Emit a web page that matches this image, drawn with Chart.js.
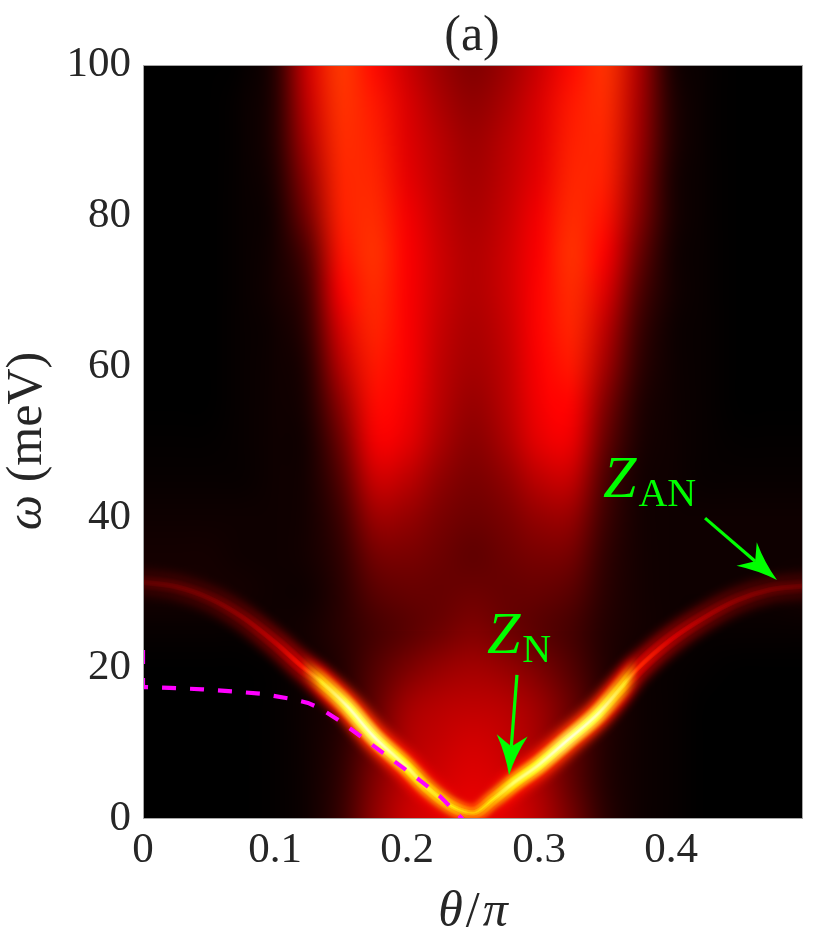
<!DOCTYPE html>
<html><head><meta charset="utf-8">
<script src="https://cdn.jsdelivr.net/npm/chart.js@4.4.1/dist/chart.umd.min.js"></script>
<style>html,body{margin:0;padding:0;background:#fff}#wrap{width:831px;height:943px}</style>
</head><body><div id="wrap"><canvas id="c" width="831" height="943"></canvas></div>
<script>
// ---- axes / ticks ----
const xTicks = [0, 0.1, 0.2, 0.3, 0.4];
const xTickLabels = ['0', '0.1', '0.2', '0.3', '0.4'];
const yTicks = [0, 20, 40, 60, 80, 100];
const yTickLabels = ['0', '20', '40', '60', '80', '100'];

// ---- background spectral intensity (hot colormap value 0..1), rows from omega=100 down to 0 ----
const thetaGrid = [0,0.025,0.05,0.075,0.1,0.125,0.15,0.175,0.2,0.225,0.25,0.275,0.3,0.325,0.35,0.375,0.4,0.425,0.45,0.475,0.5];
const omegaGrid = [100,95,90,85,80,75,70,65,60,55,50,45,40,35,30,25,20,15,10,5,0];
const intensityRows = [
 [0,0,0,0.005,0.05,0.31,0.46,0.39,0.30,0.23,0.19,0.23,0.30,0.39,0.45,0.26,0.04,0.01,0,0,0],
 [0,0,0,0.01,0.05,0.29,0.45,0.41,0.32,0.25,0.21,0.25,0.32,0.41,0.44,0.25,0.05,0.01,0,0,0],
 [0,0,0,0.01,0.05,0.26,0.44,0.42,0.33,0.27,0.23,0.27,0.33,0.42,0.43,0.24,0.05,0.01,0,0,0],
 [0,0,0,0.01,0.04,0.22,0.43,0.43,0.34,0.28,0.24,0.28,0.34,0.43,0.42,0.22,0.04,0.01,0,0,0],
 [0,0,0,0.01,0.03,0.18,0.42,0.44,0.36,0.29,0.25,0.29,0.36,0.44,0.40,0.20,0.04,0.01,0,0,0],
 [0,0,0,0.01,0.03,0.12,0.40,0.45,0.37,0.30,0.26,0.30,0.37,0.45,0.37,0.16,0.03,0.01,0,0,0],
 [0,0,0,0.01,0.03,0.09,0.37,0.44,0.37,0.30,0.26,0.30,0.38,0.44,0.33,0.12,0.03,0.01,0,0,0],
 [0,0,0,0.01,0.02,0.07,0.32,0.43,0.37,0.29,0.25,0.29,0.38,0.43,0.28,0.09,0.02,0.01,0,0,0],
 [0,0,0,0.01,0.02,0.05,0.27,0.41,0.37,0.28,0.24,0.28,0.37,0.41,0.24,0.07,0.02,0.01,0,0,0],
 [0,0,0,0.01,0.02,0.04,0.21,0.39,0.36,0.27,0.22,0.27,0.36,0.38,0.19,0.05,0.02,0.01,0,0,0],
 [0.005,0.005,0.005,0.01,0.02,0.03,0.16,0.36,0.34,0.25,0.20,0.25,0.34,0.35,0.15,0.04,0.02,0.01,0.005,0.005,0.005],
 [0.01,0.01,0.01,0.01,0.02,0.03,0.12,0.30,0.28,0.21,0.18,0.21,0.28,0.29,0.11,0.03,0.02,0.01,0.01,0.01,0.01],
 [0.02,0.02,0.02,0.02,0.02,0.03,0.09,0.23,0.22,0.18,0.16,0.18,0.22,0.22,0.09,0.03,0.02,0.02,0.02,0.02,0.02],
 [0.03,0.03,0.03,0.02,0.02,0.03,0.07,0.17,0.18,0.16,0.14,0.16,0.18,0.17,0.07,0.03,0.02,0.02,0.02,0.02,0.02],
 [0.03,0.03,0.03,0.03,0.02,0.02,0.06,0.13,0.15,0.15,0.16,0.15,0.15,0.13,0.06,0.03,0.02,0.02,0.02,0.02,0.03],
 [0.01,0.01,0.01,0.01,0.02,0.03,0.06,0.10,0.13,0.16,0.19,0.16,0.13,0.10,0.05,0.03,0.02,0.01,0.01,0.01,0.01],
 [0,0,0,0,0.005,0.02,0.05,0.12,0.18,0.22,0.24,0.22,0.18,0.12,0.05,0.02,0.01,0.005,0,0,0],
 [0,0,0,0,0.005,0.02,0.05,0.14,0.24,0.27,0.28,0.27,0.23,0.15,0.06,0.02,0.01,0,0,0,0],
 [0,0,0,0,0.005,0.02,0.06,0.16,0.26,0.29,0.31,0.29,0.24,0.14,0.05,0.02,0.01,0,0,0,0],
 [0,0,0,0,0.005,0.02,0.07,0.19,0.28,0.31,0.33,0.31,0.25,0.14,0.05,0.02,0.01,0,0,0,0],
 [0,0,0,0,0.005,0.02,0.08,0.21,0.30,0.33,0.35,0.33,0.27,0.17,0.06,0.02,0.01,0,0,0,0]
];

// ---- sharp quasiparticle ridge ----
const ridgeTheta     = [0,    0.025, 0.05, 0.075, 0.1,  0.12, 0.135, 0.155, 0.175, 0.2,  0.215, 0.235, 0.25, 0.265, 0.28, 0.3,  0.32, 0.345, 0.365, 0.375, 0.4,  0.425, 0.45, 0.475, 0.5];
const ridgeOmega     = [31.4, 30.8,  29.3, 26.8,  23.4, 20.3, 18.2,  14.9,  10.9,  6.9,  4.2,   1.6,   0.8,  2.6,   4.7,  7.2,  10.2, 14.0,  18.0,  20.0,  23.8, 26.7,  29.0, 30.4,  30.9];
const ridgeIntensity = [0.15, 0.17,  0.19, 0.23,  0.30, 0.40, 0.78,  0.94,  0.97,  0.88, 0.80,  0.76,  0.68, 0.76,  0.86, 0.92, 0.98, 0.94,  0.78,  0.44,  0.34, 0.27,  0.22, 0.19,  0.17];

// ---- magenta dashed curve ----
const dashTheta = [0,    0,    0.02, 0.045, 0.07, 0.09, 0.11, 0.125, 0.135, 0.15, 0.17, 0.19, 0.21, 0.225, 0.242];
const dashOmega = [22.4, 17.5, 17.4, 17.2,  16.9, 16.6, 16.0, 15.4,  14.6,  12.9, 10.3, 7.7,  5.1,  3.0,   0.0];

// ---- annotations ----
const arrowFrom = [[0.2833, 19.1], [0.4258, 39.9]];
const arrowTo   = [[0.2773, 5.8],  [0.4803, 31.7]];
const labelMain = ['Z', 'Z'];
const labelSub  = ['N', 'AN'];
const labelPos  = [[0.2606, 22.0], [0.3485, 42.7]];

function hot(v){
  v = Math.max(0, Math.min(1, v));
  const r = Math.min(1, v/0.375);
  const g = Math.max(0, Math.min(1, (v-0.375)/0.375));
  const b = Math.max(0, Math.min(1, (v-0.75)/0.25));
  return [Math.round(r*255), Math.round(g*255), Math.round(b*255)];
}
function hotCss(v){ const c = hot(v); return `rgb(${c[0]},${c[1]},${c[2]})`; }

// glow layers used to render the ridge (style only): colour = hot(scale*I - offset)
const glowLayers = [
  {scale:0.45, offset:0,    width:28, blur:5},
  {scale:0.68, offset:0,    width:17, blur:3},
  {scale:1.00, offset:0.14, width:14, blur:2},
  {scale:0.90, offset:0,    width:7,  blur:1.5},
  {scale:1.00, offset:0,    width:4,  blur:1}
];

function ridgeGradient(chart, L){
  const {ctx, chartArea:a, scales:{x}} = chart;
  const g = ctx.createLinearGradient(a.left, 0, a.right, 0);
  ridgeTheta.forEach((t,i)=>{
    const p = (x.getPixelForValue(t)-a.left)/(a.right-a.left);
    g.addColorStop(Math.min(1, Math.max(0, p)), hotCss(ridgeIntensity[i]*L.scale - L.offset));
  });
  return g;
}

const ridgePoints = ridgeTheta.map((t,i)=>({x:t, y:ridgeOmega[i]}));
const datasets = [{
  label:'dashed', data: dashTheta.map((t,i)=>({x:t, y:dashOmega[i]})),
  borderColor:'#ff00ff', borderWidth:4.2, borderDash:[14,14], tension:0, pointRadius:0, order:0, fill:false
}];
glowLayers.forEach((L, k) => {
  datasets.push({
    label:'ridge'+k, data: ridgePoints, borderWidth:L.width,
    borderColor: c => c.chart.chartArea ? ridgeGradient(c.chart, L) : '#000',
    cubicInterpolationMode:'monotone', pointRadius:0, order:1, fill:false,
    borderCapStyle:'round', borderJoinStyle:'round'
  });
});

const heatPlugin = {
  id:'heat',
  beforeDatasetsDraw(chart){
    const {ctx, chartArea:a, scales:{x, y}} = chart;
    const nC = thetaGrid.length, nR = omegaGrid.length;
    const off = document.createElement('canvas'); off.width = nC; off.height = nR;
    const octx = off.getContext('2d'); const img = octx.createImageData(nC, nR);
    for (let r=0;r<nR;r++) for (let c=0;c<nC;c++){
      const col = hot(intensityRows[r][c]); const k = (r*nC+c)*4;
      img.data[k]=col[0]; img.data[k+1]=col[1]; img.data[k+2]=col[2]; img.data[k+3]=255;
    }
    octx.putImageData(img,0,0);
    const dT = thetaGrid[1]-thetaGrid[0], dW = omegaGrid[0]-omegaGrid[1];
    const x0 = x.getPixelForValue(thetaGrid[0]-dT/2), x1 = x.getPixelForValue(thetaGrid[nC-1]+dT/2);
    const y0 = y.getPixelForValue(omegaGrid[0]+dW/2), y1 = y.getPixelForValue(omegaGrid[nR-1]-dW/2);
    ctx.save();
    ctx.beginPath(); ctx.rect(a.left, a.top, a.right-a.left, a.bottom-a.top); ctx.clip();
    ctx.fillStyle = '#000'; ctx.fillRect(a.left, a.top, a.right-a.left, a.bottom-a.top);
    ctx.imageSmoothingEnabled = true; ctx.imageSmoothingQuality = 'high';
    ctx.drawImage(off, x0, y0, x1-x0, y1-y0);
    ctx.restore();
  },
  beforeDatasetDraw(chart, args){
    const ds = chart.data.datasets[args.index];
    if (ds.label.startsWith('ridge')){
      const L = glowLayers[+ds.label.slice(5)];
      chart.ctx.save();
      chart.ctx.globalCompositeOperation = 'lighten';
      chart.ctx.filter = `blur(${L.blur}px)`;
    }
  },
  afterDatasetDraw(chart, args){
    const ds = chart.data.datasets[args.index];
    if (ds.label.startsWith('ridge')) chart.ctx.restore();
  },
  afterDatasetsDraw(chart){
    const {ctx, chartArea:a} = chart;
    ctx.save(); ctx.strokeStyle = '#a6a6a6'; ctx.lineWidth = 1;
    ctx.strokeRect(a.left+0.5, a.top+0.5, a.right-a.left-1, a.bottom-a.top-1);
    ctx.restore();
  },
  afterDraw(chart){
    const {ctx, chartArea:a, scales:{x, y}} = chart;
    ctx.save();
    // arrows
    ctx.fillStyle = '#00ff00'; ctx.strokeStyle = '#00ff00';
    for (let i=0;i<arrowFrom.length;i++){
      const x0 = x.getPixelForValue(arrowFrom[i][0]), y0 = y.getPixelForValue(arrowFrom[i][1]);
      const x1 = x.getPixelForValue(arrowTo[i][0]), y1 = y.getPixelForValue(arrowTo[i][1]);
      const Lh = 40, W = 31, notch = 0.72;
      const dx = x1-x0, dy = y1-y0, d = Math.hypot(dx,dy), ux = dx/d, uy = dy/d, nx = -uy, ny = ux;
      const bx = x1-ux*Lh*notch, by = y1-uy*Lh*notch;
      ctx.lineWidth = 3.2; ctx.beginPath(); ctx.moveTo(x0,y0); ctx.lineTo(bx,by); ctx.stroke();
      const c1x = x1-ux*Lh+nx*W/2, c1y = y1-uy*Lh+ny*W/2;
      const c2x = x1-ux*Lh-nx*W/2, c2y = y1-uy*Lh-ny*W/2;
      ctx.beginPath(); ctx.moveTo(x1,y1);
      ctx.quadraticCurveTo((x1+c1x)/2 - nx*3, (y1+c1y)/2 - ny*3, c1x, c1y);
      ctx.lineTo(bx,by); ctx.lineTo(c2x,c2y);
      ctx.quadraticCurveTo((x1+c2x)/2 + nx*3, (y1+c2y)/2 + ny*3, x1, y1);
      ctx.closePath(); ctx.fill();
    }
    // Z labels
    ctx.textBaseline = 'alphabetic'; ctx.textAlign = 'left';
    for (let i=0;i<labelMain.length;i++){
      const px = x.getPixelForValue(labelPos[i][0]), py = y.getPixelForValue(labelPos[i][1]);
      ctx.font = 'italic 60px "Liberation Serif"';
      ctx.fillText(labelMain[i], px, py);
      const w = ctx.measureText(labelMain[i]).width;
      ctx.font = '40px "Liberation Serif"';
      ctx.fillText(labelSub[i], px + w + 2, py + 9);
    }
    // title
    ctx.fillStyle = '#262626';
    ctx.font = '50px "Liberation Serif"'; ctx.textAlign = 'center';
    ctx.fillText('(a)', (a.left+a.right)/2 - 1, 50);
    // x-axis title: theta/pi
    const parts = [['θ','italic 50px "Liberation Serif"', 3], ['/','50px "Liberation Serif"', 3], ['π','italic 50px "Liberation Serif"', 0]];
    let tot = 0; parts.forEach(p=>{ctx.font=p[1]; tot += ctx.measureText(p[0]).width + p[2];});
    let cx = (a.left+a.right)/2 - tot/2; ctx.textAlign = 'left';
    parts.forEach(p=>{ctx.font=p[1]; ctx.fillText(p[0], cx, 926); cx += ctx.measureText(p[0]).width + p[2];});
    // y-axis title: omega (meV)
    ctx.translate(41, 441); ctx.rotate(-Math.PI/2);
    const yp = [['ω','italic 50px "Liberation Serif"'], [' (meV)','50px "Liberation Serif"']];
    tot = 0; yp.forEach(p=>{ctx.font=p[1]; tot += ctx.measureText(p[0]).width;});
    cx = -tot/2;
    yp.forEach(p=>{ctx.font=p[1]; ctx.fillText(p[0], cx, 0); cx += ctx.measureText(p[0]).width;});
    ctx.restore();
  }
};

new Chart(document.getElementById('c'), {
  type:'line',
  data:{datasets},
  plugins:[heatPlugin],
  options:{
    responsive:false, animation:false,
    layout:{padding:{top:65, right:28, left:0, bottom:0}},
    plugins:{legend:{display:false}, tooltip:{enabled:false}, title:{display:false}},
    scales:{
      x:{type:'linear', min:0, max:0.5,
         afterFit(s){ s.height = 124; },
         afterBuildTicks(s){ s.ticks = xTicks.map(v=>({value:v})); },
         ticks:{callback:(v)=>xTickLabels[xTicks.indexOf(v)], font:{family:'Liberation Serif', size:43}, color:'#262626', padding:6, maxRotation:0, autoSkip:false},
         grid:{display:false, drawTicks:false}, border:{display:false}},
      y:{type:'linear', min:0, max:100,
         afterFit(s){ s.width = 143; },
         afterBuildTicks(s){ s.ticks = yTicks.map(v=>({value:v})); },
         ticks:{callback:(v)=>yTickLabels[yTicks.indexOf(v)], font:{family:'Liberation Serif', size:43}, color:'#262626', padding:12, autoSkip:false},
         grid:{display:false, drawTicks:false}, border:{display:false}}
    }
  }
});
</script></body></html>
